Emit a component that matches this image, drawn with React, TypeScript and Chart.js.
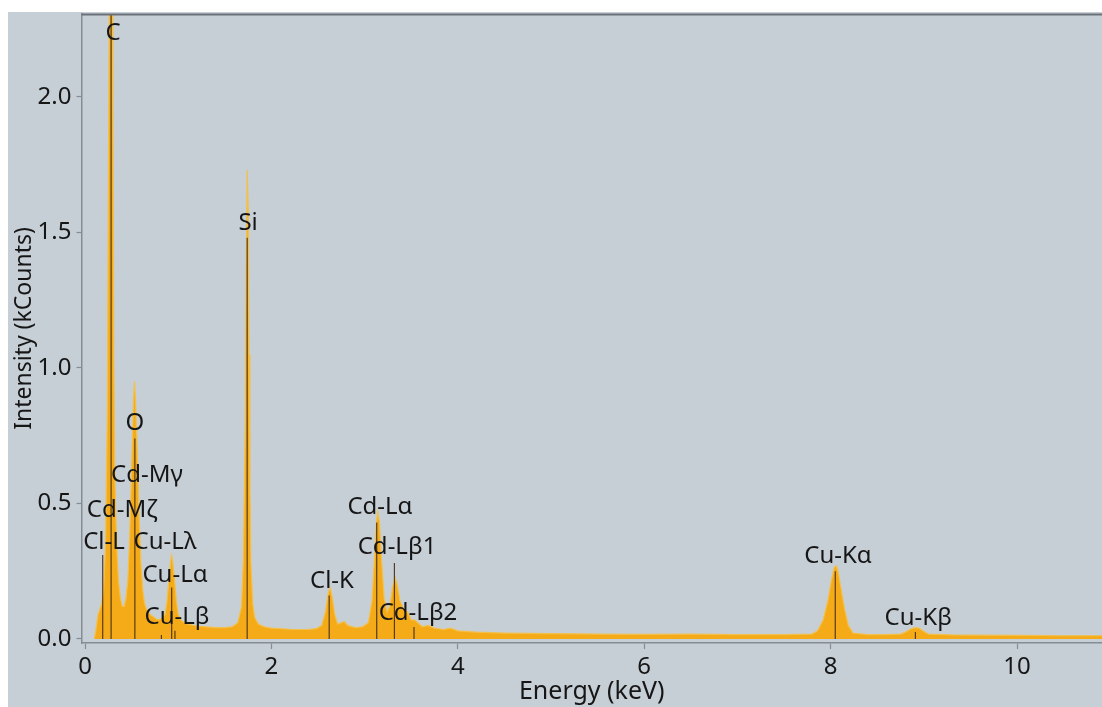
import React, { useEffect, useRef } from 'react';
import { Chart, registerables } from 'chart.js';
Chart.register(...registerables);

// Spectrum (keV, kCounts)
const energy = [
  0.10, 0.12, 0.14, 0.16, 0.18, 0.20, 0.22, 0.24, 0.25, 0.26, 0.27, 0.28, 0.29, 0.30, 0.31, 0.32, 0.34, 0.36, 0.38, 0.40,
  0.42, 0.44, 0.46, 0.48, 0.50, 0.52, 0.53, 0.54, 0.56, 0.58, 0.60, 0.62, 0.64, 0.66, 0.70, 0.74, 0.78, 0.82, 0.86, 0.88,
  0.90, 0.92, 0.93, 0.94, 0.96, 0.98, 1.00, 1.04, 1.10, 1.20, 1.30, 1.40, 1.50, 1.58, 1.64, 1.68, 1.70, 1.72, 1.73, 1.74,
  1.75, 1.76, 1.77, 1.78, 1.80, 1.82, 1.86, 1.92, 2.00, 2.10, 2.20, 2.30, 2.40, 2.48, 2.54, 2.58, 2.61, 2.63, 2.65, 2.68,
  2.71, 2.75, 2.78, 2.82, 2.90, 2.98, 3.04, 3.08, 3.11, 3.13, 3.14, 3.16, 3.18, 3.21, 3.24, 3.27, 3.30, 3.33, 3.35, 3.38,
  3.42, 3.46, 3.50, 3.54, 3.57, 3.62, 3.68, 3.75, 3.85, 3.92, 4.00, 4.20, 4.50, 5.00, 5.50, 6.00, 6.50, 7.00, 7.50, 7.80,
  7.86, 7.92, 7.97, 8.01, 8.04, 8.06, 8.08, 8.11, 8.15, 8.19, 8.24, 8.40, 8.60, 8.75, 8.80, 8.85, 8.90, 8.95, 9.00, 9.05,
  9.30, 9.60, 10.00, 10.50, 11.00,
];
const counts = [
  0.00, 0.04, 0.09, 0.11, 0.13, 0.18, 0.34, 0.85, 1.60, 2.30, 2.60, 2.70, 2.50, 1.90, 1.00, 0.60, 0.34, 0.21, 0.15, 0.12,
  0.12, 0.15, 0.22, 0.38, 0.62, 0.88, 0.95, 0.90, 0.70, 0.45, 0.28, 0.18, 0.13, 0.11, 0.09, 0.08, 0.07, 0.075, 0.09, 0.14,
  0.22, 0.29, 0.31, 0.29, 0.22, 0.14, 0.09, 0.065, 0.055, 0.048, 0.045, 0.042, 0.042, 0.045, 0.06, 0.12, 0.30, 0.80, 1.35, 1.73,
  1.60, 1.05, 0.55, 0.28, 0.13, 0.08, 0.055, 0.045, 0.040, 0.038, 0.036, 0.035, 0.035, 0.038, 0.05, 0.10, 0.17, 0.19, 0.16, 0.09,
  0.055, 0.06, 0.065, 0.05, 0.042, 0.045, 0.06, 0.14, 0.32, 0.44, 0.47, 0.43, 0.30, 0.15, 0.10, 0.12, 0.19, 0.225, 0.20, 0.14,
  0.11, 0.10, 0.07, 0.07, 0.06, 0.045, 0.05, 0.04, 0.035, 0.04, 0.03, 0.025, 0.022, 0.02, 0.018, 0.017, 0.018, 0.016, 0.016, 0.018,
  0.03, 0.07, 0.14, 0.22, 0.265, 0.27, 0.25, 0.19, 0.11, 0.05, 0.022, 0.016, 0.016, 0.018, 0.025, 0.035, 0.042, 0.04, 0.028, 0.018,
  0.015, 0.014, 0.013, 0.012, 0.012,
];

// Peak marker lines
const markerEnergy = [0.19, 0.28, 0.535, 0.82, 0.93, 0.965, 1.74, 2.62, 3.13, 3.32, 3.53, 8.05, 8.91];
const markerHeight = [0.31, 2.4, 0.74, 0.015, 0.19, 0.03, 1.48, 0.16, 0.43, 0.28, 0.044, 0.25, 0.026];

// Peak labels
const labelText = ['C', 'Si', 'O', 'Cd-Mγ', 'Cd-Mζ', 'Cl-L', 'Cu-Lλ', 'Cu-Lα', 'Cu-Lβ', 'Cl-K', 'Cd-Lα', 'Cd-Lβ1', 'Cd-Lβ2', 'Cu-Kα', 'Cu-Kβ'];
const labelEnergy = [0.30, 1.75, 0.536, 0.665, 0.397, 0.204, 0.858, 0.966, 0.987, 2.65, 3.165, 3.348, 3.573, 8.08, 8.94];
const labelHeight = [2.236, 1.535, 0.797, 0.605, 0.476, 0.358, 0.358, 0.236, 0.081, 0.214, 0.487, 0.339, 0.096, 0.306, 0.077];

const xTicks = [0, 2, 4, 6, 8, 10];
const yTicks = [0, 0.5, 1.0, 1.5, 2.0];

const FONT = '"Noto Sans", "Open Sans", sans-serif';
const AXIS_COLOR = '#858c94';
const TEXT_COLOR = '#161616';

export default function App() {
  const ref = useRef<HTMLCanvasElement | null>(null);
  useEffect(() => {
    if (!ref.current) return;
    const markerData: any[] = [];
    markerEnergy.forEach((e, i) => {
      markerData.push({ x: e, y: 0 }, { x: e, y: markerHeight[i] }, { x: e, y: null });
    });
    const labelsPlugin = {
      id: 'peakLabels',
      afterDatasetsDraw(chart: any) {
        const { ctx, scales, chartArea } = chart;
        ctx.save();
        ctx.strokeStyle = '#6a7077';
        ctx.lineWidth = 2;
        ctx.beginPath();
        ctx.moveTo(chartArea.left, chartArea.top + 0.5);
        ctx.lineTo(chartArea.right, chartArea.top + 0.5);
        ctx.stroke();
        ctx.font = `24px ${FONT}`;
        ctx.fillStyle = TEXT_COLOR;
        ctx.textAlign = 'center';
        ctx.textBaseline = 'middle';
        labelText.forEach((t, i) => {
          ctx.fillText(t, scales.x.getPixelForValue(labelEnergy[i]), scales.y.getPixelForValue(labelHeight[i]));
        });
        ctx.restore();
      },
    };
    const chart = new Chart(ref.current, {
      type: 'line',
      data: {
        datasets: [
          {
            label: 'markers',
            data: markerData,
            borderColor: 'rgba(70,45,20,0.9)',
            borderWidth: 1.2,
            pointRadius: 0,
            fill: false,
            spanGaps: false,
            order: 1,
          } as any,
          {
            label: 'spectrum',
            data: energy.map((e, i) => ({ x: e, y: counts[i] })),
            borderColor: '#f3c04c',
            borderWidth: 1.2,
            backgroundColor: '#f5ab18',
            pointRadius: 0,
            fill: 'origin',
            tension: 0,
            order: 2,
          } as any,
        ],
      },
      options: {
        animation: false,
        responsive: true,
        maintainAspectRatio: false,
        layout: { padding: { top: 2, right: 0, left: 0, bottom: 0 } },
        plugins: { legend: { display: false }, tooltip: { enabled: false } },
        scales: {
          x: {
            type: 'linear',
            min: -0.0376,
            max: 10.912,
            afterFit: (s: any) => { s.height = 64; s.paddingLeft = 0; s.paddingRight = 0; },
            afterBuildTicks: (s: any) => { s.ticks = xTicks.map((v) => ({ value: v })); },
            grid: { drawOnChartArea: false, tickLength: 6, tickColor: AXIS_COLOR, tickWidth: 1.2 },
            border: { display: true, color: AXIS_COLOR, width: 1.5 },
            ticks: {
              color: TEXT_COLOR,
              font: { family: FONT, size: 24 },
              padding: 4,
              maxRotation: 0,
              callback: (v: any) => String(v),
            },
            title: {
              display: true,
              text: 'Energy (keV)',
              color: TEXT_COLOR,
              font: { family: FONT, size: 25, lineHeight: 1.2 },
              padding: { top: 0, bottom: 0 },
            },
          },
          y: {
            type: 'linear',
            min: -0.0148,
            max: 2.306,
            afterFit: (s: any) => { s.width = 73.5; s.paddingTop = 0; s.paddingBottom = 0; },
            afterBuildTicks: (s: any) => { s.ticks = yTicks.map((v) => ({ value: v })); },
            grid: { drawOnChartArea: false, tickLength: 5, tickColor: AXIS_COLOR, tickWidth: 1.2 },
            border: { display: true, color: AXIS_COLOR, width: 1.5 },
            ticks: {
              color: TEXT_COLOR,
              font: { family: FONT, size: 24 },
              padding: 5,
              callback: (v: any) => Number(v).toFixed(1),
            },
            title: {
              display: true,
              text: 'Intensity (kCounts)',
              color: TEXT_COLOR,
              font: { family: FONT, size: 23, lineHeight: 1.2 },
              padding: { top: 3, bottom: 0 },
            },
          },
        },
      },
      plugins: [labelsPlugin],
    });
    return () => chart.destroy();
  }, []);
  return (
    <div style={{ position: 'fixed', left: 8, top: 12, right: 0, bottom: 0, background: '#c6ced6' }}>
      <canvas ref={ref} />
    </div>
  );
}
